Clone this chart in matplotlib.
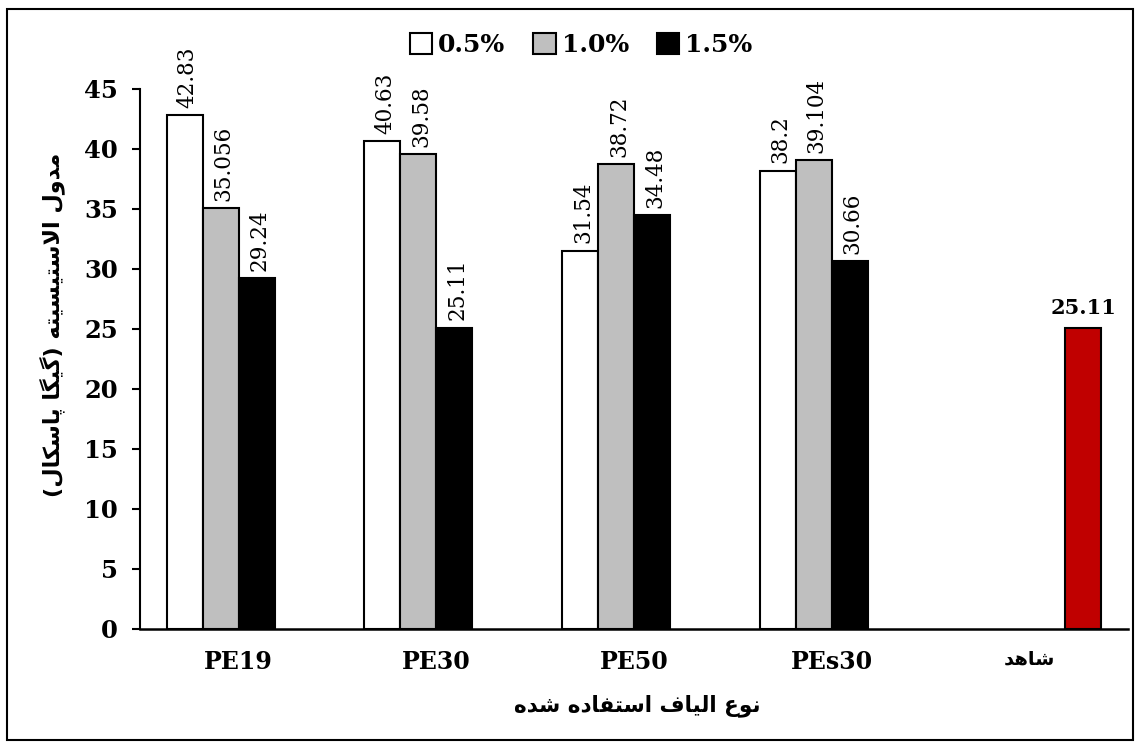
import numpy as np
import matplotlib
matplotlib.use("Agg")
import matplotlib.pyplot as plt
from matplotlib.patches import Patch, Rectangle

# ---------- data ----------
categories = ["PE19", "PE30", "PE50", "PEs30", "شاهد"]
series_names = ["0.5%", "1.0%", "1.5%"]
vals_05 = [42.83, 40.63, 31.54, 38.2, None]
vals_10 = [35.056, 39.58, 38.72, 39.104, None]
vals_15 = [29.24, 25.11, 34.48, 30.66, None]
vals_control = [None, None, None, None, 25.11]
labels_05 = ["42.83", "40.63", "31.54", "38.2", ""]
labels_10 = ["35.056", "39.58", "38.72", "39.104", ""]
labels_15 = ["29.24", "25.11", "34.48", "30.66", ""]
labels_control = ["", "", "", "", "25.11"]
yticks = [0, 5, 10, 15, 20, 25, 30, 35, 40, 45]
ylabel = "مدول الاستیسیته (گیگا پاسکال)"
xlabel = "نوع الیاف استفاده شده"

# ---------- minimal arabic/persian shaping (matplotlib has no text shaping) ----------
# letter -> (first presentation form code, number of forms)
FORMS = {
    "ا": (0xFE8D, 2), "آ": (0xFE81, 2), "ب": (0xFE8F, 4), "ت": (0xFE95, 4),
    "ث": (0xFE99, 4), "ج": (0xFE9D, 4), "ح": (0xFEA1, 4), "خ": (0xFEA5, 4),
    "د": (0xFEA9, 2), "ذ": (0xFEAB, 2), "ر": (0xFEAD, 2), "ز": (0xFEAF, 2),
    "س": (0xFEB1, 4), "ش": (0xFEB5, 4), "ص": (0xFEB9, 4), "ض": (0xFEBD, 4),
    "ط": (0xFEC1, 4), "ظ": (0xFEC5, 4), "ع": (0xFEC9, 4), "غ": (0xFECD, 4),
    "ف": (0xFED1, 4), "ق": (0xFED5, 4), "ل": (0xFEDD, 4), "م": (0xFEE1, 4),
    "ن": (0xFEE5, 4), "ه": (0xFEE9, 4), "و": (0xFEED, 2), "ة": (0xFE93, 2),
    "پ": (0xFB56, 4), "چ": (0xFB7A, 4), "ژ": (0xFB8A, 2), "ک": (0xFB8E, 4),
    "گ": (0xFB92, 4), "ی": (0xFBFC, 4),
}


def shape(text):
    out = []
    i = 0
    n = len(text)
    while i < n:
        ch = text[i]
        if ch not in FORMS:
            out.append(ch)
            i += 1
            continue
        prev = text[i - 1] if i > 0 else ""
        jp = prev in FORMS and FORMS[prev][1] == 4
        if ch == "ل" and i + 1 < n and text[i + 1] == "ا":
            out.append(chr(0xFEFC if jp else 0xFEFB))
            i += 2
            continue
        nxt = text[i + 1] if i + 1 < n else ""
        base, nf = FORMS[ch]
        jn = nf == 4 and nxt in FORMS
        if nf == 4 and jp and jn:
            off = 3
        elif nf == 4 and jn:
            off = 2
        elif jp:
            off = 1
        else:
            off = 0
        out.append(chr(base + off))
        i += 1
    vis = "".join(out)[::-1]
    return vis.translate(str.maketrans("()", ")("))


def fa(text):
    return shape(text) if any(c in FORMS for c in text) else text


# ---------- plot ----------
W, H = 1138, 747
fig = plt.figure(figsize=(W / 100, H / 100), dpi=100)
ax = fig.add_axes([140 / W, (H - 629) / H, (1128 - 140) / W, (629 - 89) / H])

num_font = "DejaVu Serif"
fa_font = "DejaVu Sans"

x = np.arange(len(categories))
bw = 0.182
all_series = [vals_05, vals_10, vals_15, vals_control]
all_labels = [labels_05, labels_10, labels_15, labels_control]
colors = ["white", "#BFBFBF", "black", "#C00000"]

for k, (vals, labs, col) in enumerate(zip(all_series, all_labels, colors)):
    xs = [xi + (k - 1.5) * bw for xi, v in zip(x, vals) if v is not None]
    hs = [v for v in vals if v is not None]
    ls = [l for l, v in zip(labs, vals) if v is not None]
    ax.bar(xs, hs, width=bw, color=col, edgecolor="black", linewidth=1.5, zorder=3)
    for xx, hh, ll in zip(xs, hs, ls):
        if k == 3:
            ax.text(xx, hh + 0.8, ll, ha="center", va="bottom", fontsize=15,
                    fontweight="bold", family=num_font, clip_on=False)
        else:
            ax.text(xx + 0.015, hh + 0.6, ll, ha="center", va="bottom", rotation=90,
                    fontsize=15.5, family=num_font, clip_on=False)

ax.set_xlim(-0.5, len(categories) - 0.5)
ax.set_ylim(0, 45)
ax.set_yticks(yticks)
ax.set_yticklabels([str(t) for t in yticks], fontsize=17.5, fontweight="bold", family=num_font)
ax.set_xticks(x)
ax.set_xticklabels([fa(c) for c in categories], fontsize=17, fontweight="bold")
for lbl, c in zip(ax.get_xticklabels(), categories):
    if c != fa(c):
        lbl.set_family(fa_font)
        lbl.set_fontsize(14)
    else:
        lbl.set_family(num_font)

ax.tick_params(axis="y", length=6, width=1.5, pad=10, direction="out")
ax.tick_params(axis="x", length=0, pad=15)
for s in ["top", "right"]:
    ax.spines[s].set_visible(False)
ax.spines["left"].set_linewidth(1.5)
ax.spines["bottom"].set_linewidth(1.8)
ax.spines["bottom"].set_zorder(4)

fig.text(52 / W, 1 - 325 / H, fa(ylabel), rotation=90, ha="center", va="center",
         fontsize=16, fontweight="bold", family=fa_font)
fig.text(637 / W, 1 - 706 / H, fa(xlabel), ha="center", va="center",
         fontsize=15.5, fontweight="bold", family=fa_font)

handles = [Patch(facecolor=c, edgecolor="black", linewidth=1.5) for c in colors[:3]]
fig.legend(handles, series_names, loc="center", bbox_to_anchor=(581 / W, 1 - 45 / H),
           ncol=3, frameon=False, handlelength=0.9, handleheight=0.9,
           handletextpad=0.25, columnspacing=1.1,
           prop={"family": num_font, "weight": "bold", "size": 18})

fig.patches.append(Rectangle((7 / W, 7 / H), (1133 - 7) / W, (740 - 9) / H,
                             transform=fig.transFigure, fill=False,
                             edgecolor="black", linewidth=1.5))

fig.savefig("out.png", dpi=100)
